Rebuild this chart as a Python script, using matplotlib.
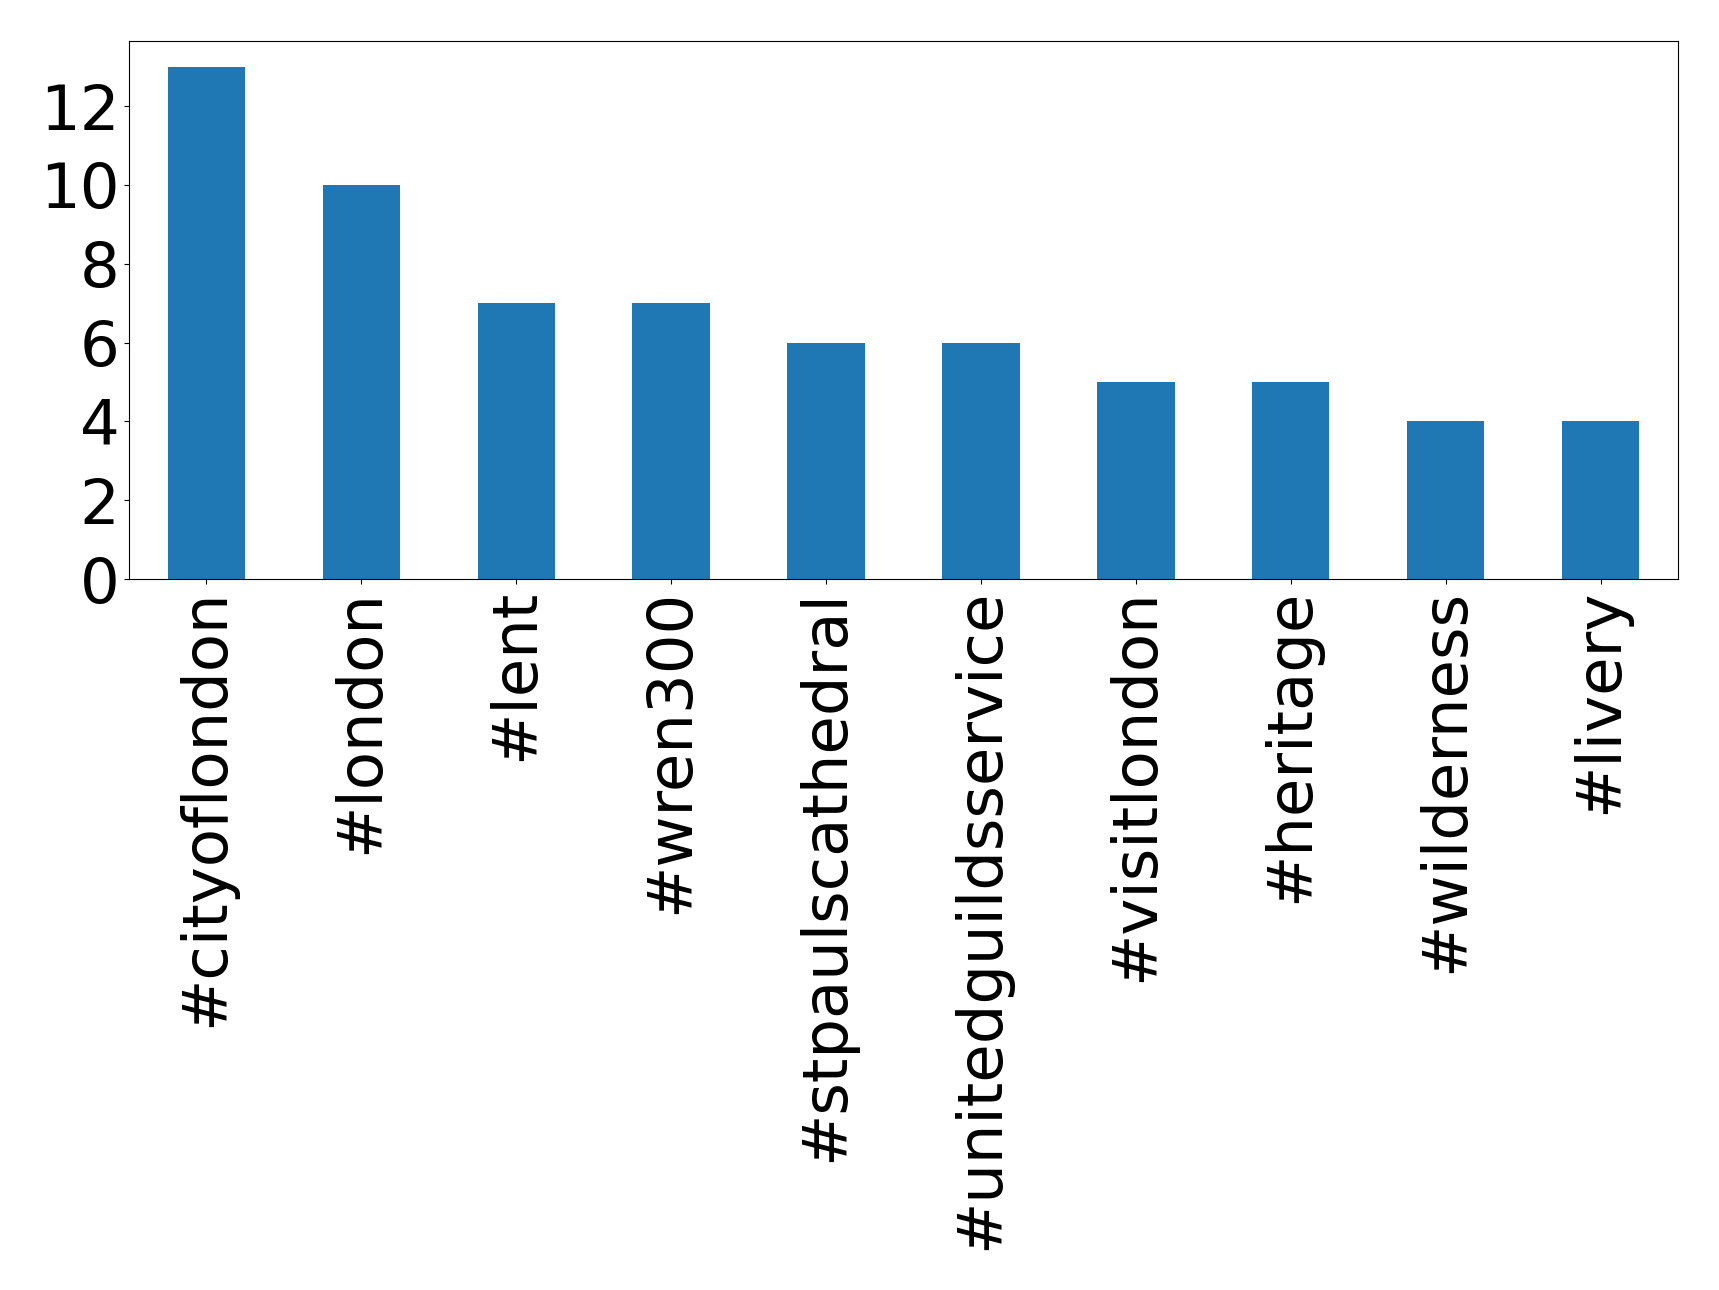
import matplotlib
matplotlib.use('Agg')
import matplotlib.pyplot as plt
import numpy as np

hashtags = ['#cityoflondon', '#london', '#lent', '#wren300', '#stpaulscathedral',
            '#unitedguildsservice', '#visitlondon', '#heritage', '#wilderness', '#livery']
counts = [13, 10, 7, 7, 6, 6, 5, 5, 4, 4]

fig = plt.figure(figsize=(17.19, 12.9), dpi=100)
ax = fig.add_axes([129 / 1719, 1 - 579 / 1290, (1678 - 129) / 1719, (579 - 41) / 1290])

x = np.arange(len(hashtags))
ax.bar(x, counts, width=0.5, color='#1f77b4')
ax.set_xlim(-0.5, len(hashtags) - 0.5)
ax.set_xticks(x)
ax.set_xticklabels(hashtags, rotation=90, fontsize=45)
ax.set_yticks(range(0, 13, 2))
ax.tick_params(axis='y', labelsize=45)

fig.savefig('out.png', dpi=100)
